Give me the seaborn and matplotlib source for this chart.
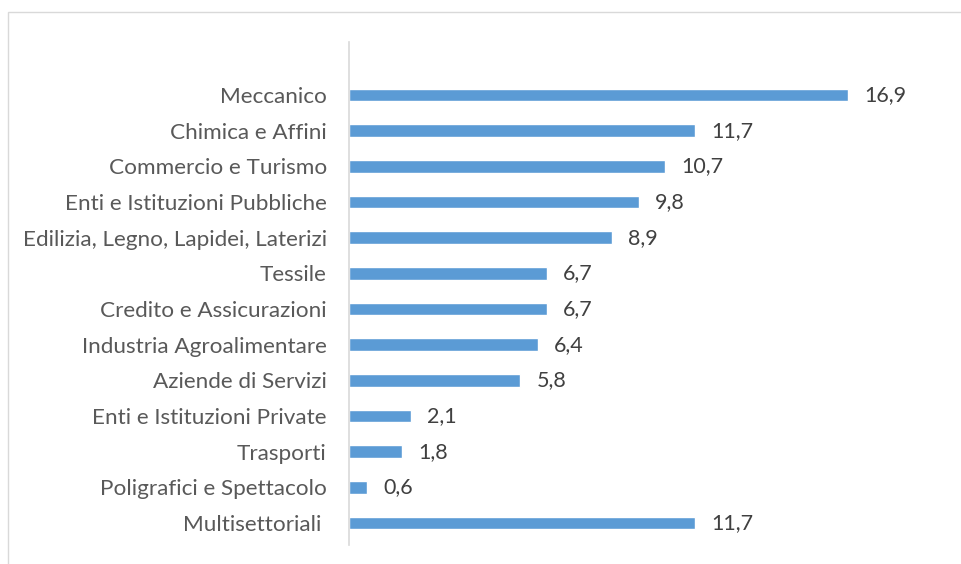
import pandas as pd
import seaborn as sns
import matplotlib.pyplot as plt
from matplotlib.patches import Rectangle

# Data
settori = ["Meccanico", "Chimica e Affini", "Commercio e Turismo",
           "Enti e Istituzioni Pubbliche", "Edilizia, Legno, Lapidei, Laterizi",
           "Tessile", "Credito e Assicurazioni", "Industria Agroalimentare",
           "Aziende di Servizi", "Enti e Istituzioni Private", "Trasporti",
           "Poligrafici e Spettacolo", "Multisettoriali "]
valori = [16.9, 11.7, 10.7, 9.8, 8.9, 6.7, 6.7, 6.4, 5.8, 2.1, 1.8, 0.6, 11.7]

df = pd.DataFrame({"Settore": settori, "Valore": valori})

sns.set_style("white")
plt.rcParams['font.family'] = ['Lato', 'DejaVu Sans']

fig = plt.figure(figsize=(9.62, 5.64), dpi=100)
ax = fig.add_axes([349 / 962, 1 - 545 / 564, (940 - 349) / 962, (545 - 42) / 564])

sns.barplot(data=df, x="Valore", y="Settore", color="#5B9BD5",
            saturation=1, width=0.36, ax=ax, orient="h")

# value labels with comma decimals
for i, v in enumerate(valori):
    ax.text(v + 0.55, i, f"{v:.1f}".replace(".", ","), va="center", ha="left",
            fontsize=15.5, color="#404040")

ax.set_xlim(0, 20)
ax.set_ylim(12.617, -1.486)
ax.set_xlabel("")
ax.set_ylabel("")
ax.set_xticks([])
ax.tick_params(axis="y", length=0, pad=16, labelsize=16.2, labelcolor="#595959")
for s in ["top", "right", "bottom"]:
    ax.spines[s].set_visible(False)
ax.spines["left"].set_color("#D9D9D9")
ax.spines["left"].set_linewidth(1.2)

# chart border
fig.patches.append(Rectangle((8 / 962, -0.1), 1.0, 1 - 12 / 564 + 0.1,
                             transform=fig.transFigure, fill=False,
                             edgecolor="#D9D9D9", linewidth=1))

plt.savefig("out.png", dpi=100)
